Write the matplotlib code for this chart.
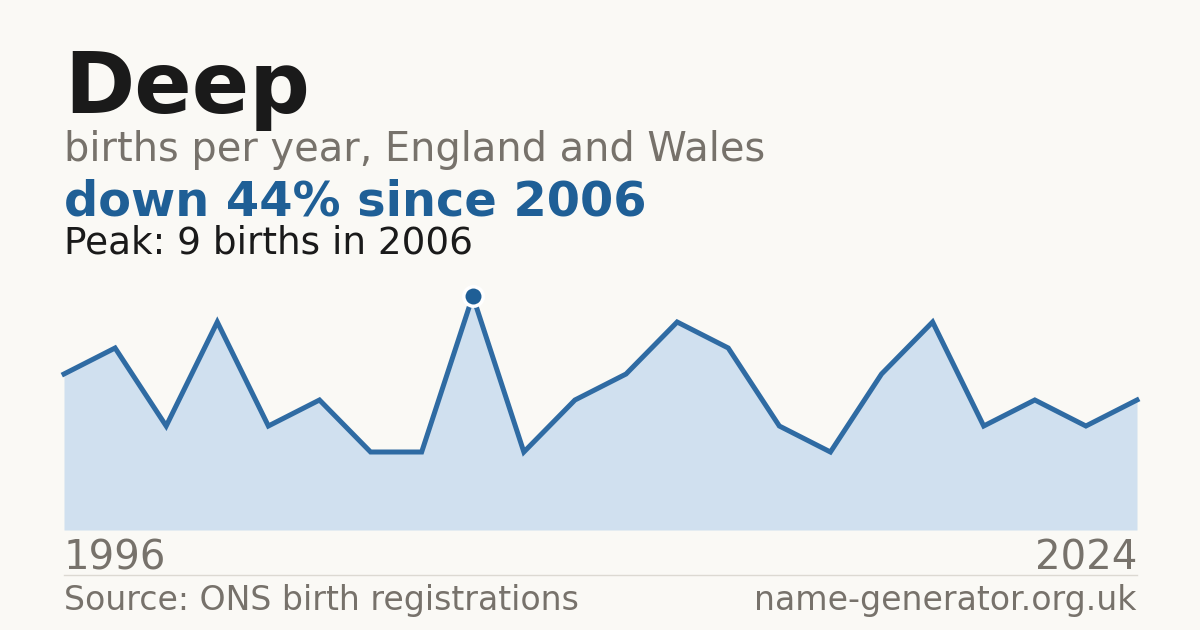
import matplotlib
matplotlib.use("Agg")
import matplotlib.pyplot as plt
from matplotlib.lines import Line2D

years = [1996, 1997, 1998, 2000, 2001, 2002, 2003, 2005, 2006, 2008, 2009,
         2010, 2012, 2014, 2015, 2016, 2018, 2019, 2020, 2021, 2023, 2024]
births = [6, 7, 4, 8, 4, 5, 3, 3, 9, 3, 5, 6, 8, 7, 4, 3, 6, 8, 4, 5, 4, 5]

title = "Deep"
subtitle = "births per year, England and Wales"
headline = "down 44% since 2006"
peak_text = "Peak: 9 births in 2006"
source = "Source: ONS birth registrations"
site = "name-generator.org.uk"

BG = "#faf9f5"
DARK = "#1a1a1a"
GREY = "#77726b"
BLUE = "#1f5f96"
LINE = "#2f6ba3"
FILL = "#d0e0ef"

W, H = 1200, 630
fig = plt.figure(figsize=(W / 100, H / 100), dpi=100, facecolor=BG)

left, right = 64 / W, 1137 / W
bottom, top = (H - 530) / H, (H - 296) / H
ax = fig.add_axes([left, bottom, right - left, top - bottom])
ax.set_facecolor(BG)
x = list(range(len(years)))
ax.fill_between(x, births, 0, color=FILL, linewidth=0)
ax.plot(x, births, color=LINE, linewidth=3.6, solid_joinstyle="miter", clip_on=False)
pk = births.index(max(births))
ax.plot([x[pk]], [births[pk]], marker="o", markersize=14, color=BLUE,
        markeredgecolor="white", markeredgewidth=2.5, clip_on=False, zorder=5)
ax.set_xlim(0, len(years) - 1)
ax.set_ylim(0, max(births))
ax.axis("off")

fam = "DejaVu Sans"
def t(xp, yp, s, size, color, weight="normal", ha="left"):
    fig.text(xp / W, 1 - yp / H, s, fontsize=size, color=color, fontweight=weight,
             ha=ha, va="baseline", family=fam)

t(64, 113, title, 61, DARK, "bold")
t(64, 161, subtitle, 28.7, GREY)
t(64, 215, headline, 34.5, BLUE, "bold")
t(64, 254, peak_text, 26.9, DARK)
t(64, 569, str(years[0]), 29, GREY)
t(1137, 569, str(years[-1]), 29, GREY, ha="right")
t(64, 610, source, 23.9, GREY)
t(1136, 610, site, 23.9, GREY, ha="right")

fig.add_artist(Line2D([64 / W, 1137 / W], [1 - 574.5 / H, 1 - 574.5 / H],
                      color="#dcd9d2", linewidth=1))

fig.savefig("out.png", dpi=100, facecolor=BG)
